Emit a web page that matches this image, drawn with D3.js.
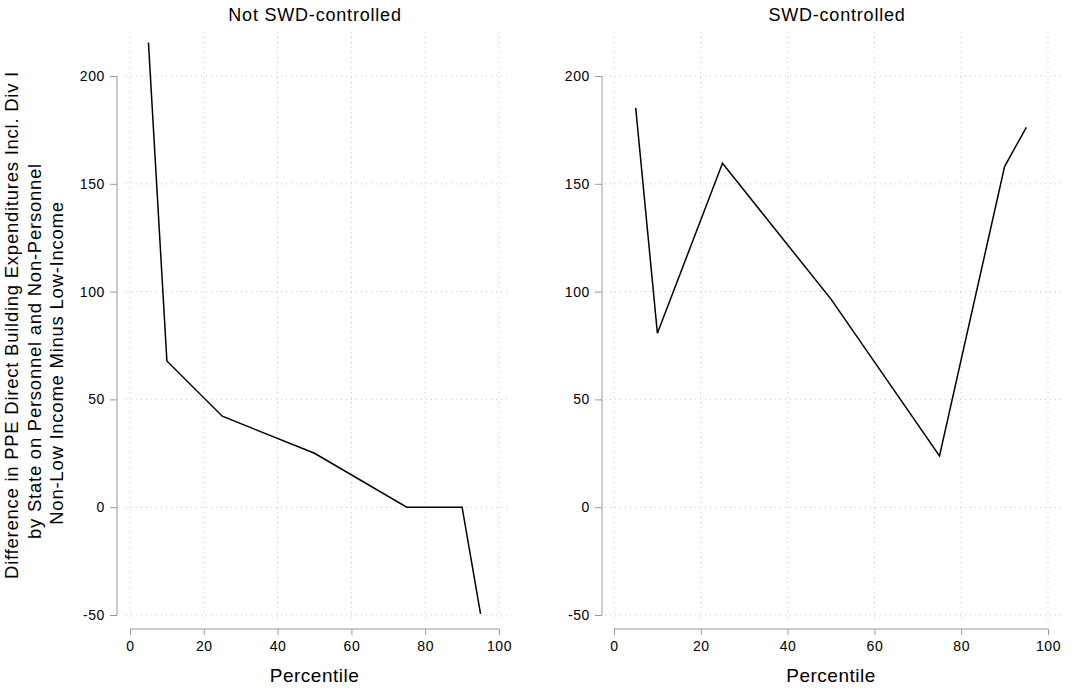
<!DOCTYPE html>
<html>
<head>
<meta charset="utf-8">
<script src="https://cdn.jsdelivr.net/npm/d3@7"></script>
<style>
  body { margin: 0; background: #fff; }
  text { font-family: "Liberation Sans", Arial, sans-serif; fill: #000; }
</style>
</head>
<body>
<svg id="chart" width="1073" height="688"></svg>
<script>
// data
var percentiles = [5, 10, 25, 50, 75, 90, 95]
var notSwd = [215.5, 67.8, 42.2, 25, 0, 0, -49.5]
var swd = [185.2, 80.7, 159.5, 96.5, 23.8, 158, 176.2]
var panelTitles = ["Not SWD-controlled", "SWD-controlled"]
var xTicks = [0, 20, 40, 60, 80, 100]
var yTicks = [-50, 0, 50, 100, 150, 200]
var ylab = ["Difference in PPE Direct Building Expenditures Incl. Div I",
            "by State on Personnel and Non-Personnel",
            "Non-Low Income Minus Low-Income"]

var svg = d3.select("#chart")

var y = d3.scaleLinear().domain([-50, 200]).range([615, 76])

function styleTicks(sel) {
  sel.selectAll(".tick line").style("stroke", "#999")
  sel.selectAll(".tick text")
    .style("font-size", "14px")
    .style("letter-spacing", "0.6px")
    .style("font-family", "Liberation Sans, Arial, sans-serif")
}

function drawPanel(opts) {
  var x = d3.scaleLinear().domain([0, 100]).range([opts.x0, opts.x1])
  var g = svg.append("g")

  // dotted grid
  g.selectAll(".vgrid").data(xTicks).enter().append("line")
    .attr("x1", function(d) { return x(d) }).attr("x2", function(d) { return x(d) })
    .attr("y1", 32).attr("y2", 622)
    .style("stroke", "#c8c8c8").style("stroke-width", 1).style("stroke-dasharray", "1,4")
  g.selectAll(".hgrid").data(yTicks).enter().append("line")
    .attr("x1", opts.gx0).attr("x2", opts.gx1)
    .attr("y1", function(d) { return y(d) }).attr("y2", function(d) { return y(d) })
    .style("stroke", "#c8c8c8").style("stroke-width", 1).style("stroke-dasharray", "1,4")

  // y axis
  var ya = g.append("g").attr("transform", "translate(" + opts.ax + ",0)")
    .call(d3.axisLeft(y).tickValues(yTicks).tickFormat(function(d) { return String(d) })
      .tickSize(7).tickPadding(5))
  ya.select(".domain").attr("d", "M0," + y(-50) + "V" + y(200)).style("stroke", "#999")
  styleTicks(ya)

  // x axis
  var xa = g.append("g").attr("transform", "translate(0,629)")
    .call(d3.axisBottom(x).tickValues(xTicks).tickSize(6).tickPadding(6))
  xa.select(".domain").attr("d", "M" + x(0) + ",0H" + x(100)).style("stroke", "#999")
  styleTicks(xa)

  // line
  var line = d3.line().x(function(d, i) { return x(percentiles[i]) }).y(function(d) { return y(d) })
  g.append("path").datum(opts.values).attr("d", line)
    .style("fill", "none").style("stroke", "#000").style("stroke-width", 1.5)

  g.append("text").attr("x", opts.titleX).attr("y", 21).attr("text-anchor", "middle")
    .style("font-size", "18px").style("letter-spacing", "0.8px").text(opts.title)
  g.append("text").attr("x", (x(0) + x(100)) / 2).attr("y", 682).attr("text-anchor", "middle")
    .style("font-size", "19px").style("letter-spacing", "0.5px").text("Percentile")
}

drawPanel({ x0: 130, x1: 499, gx0: 126, gx1: 510, ax: 117, values: notSwd, title: panelTitles[0], titleX: 315 })
drawPanel({ x0: 614, x1: 1048, gx0: 605, gx1: 1064, ax: 602, values: swd, title: panelTitles[1], titleX: 837 })

// y label, three lines (rotated)
var labCenters = [325, 351, 363]
svg.selectAll(".ylab").data(ylab).enter().append("text")
  .attr("transform", function(d, i) {
    return "translate(" + (18 + i * 22.5) + "," + labCenters[i] + ") rotate(-90)"
  })
  .attr("text-anchor", "middle")
  .style("font-size", "18.5px").style("letter-spacing", "0.75px")
  .text(function(d) { return d })
</script>
</body>
</html>
